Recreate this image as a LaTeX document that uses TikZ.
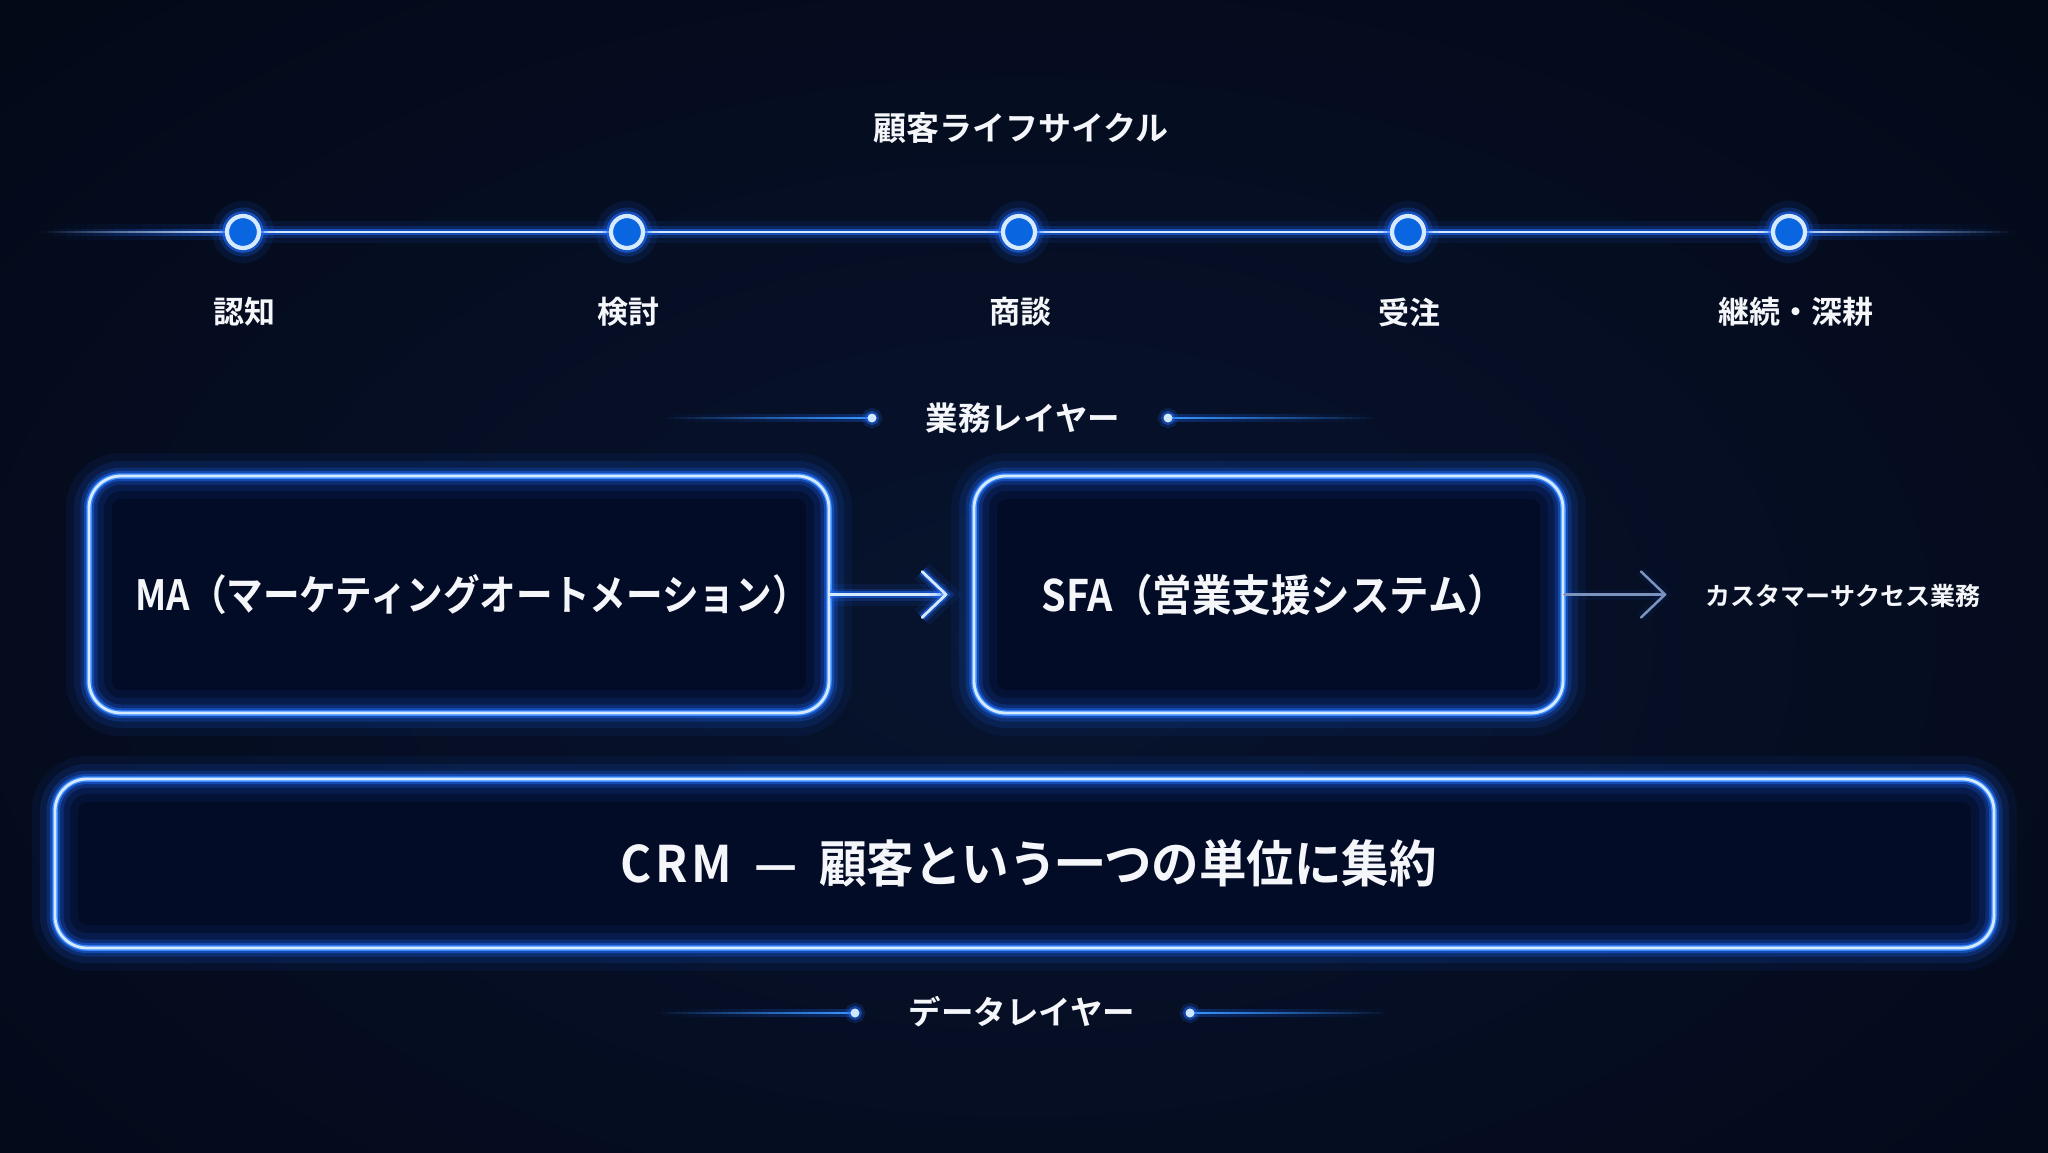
\documentclass[tikz,border=0pt]{standalone}
\usepackage{fontspec}
\setmainfont{Noto Sans CJK JP}[BoldFont={* Bold}]
\usetikzlibrary{calc}

\definecolor{bgout}{HTML}{02040D}
\definecolor{bgin}{HTML}{07132E}
\definecolor{glowblue}{HTML}{1E6CFF}
\definecolor{corelight}{HTML}{D6EAFF}
\definecolor{midblue}{HTML}{3C8CFF}
\definecolor{circfill}{HTML}{0A66E0}
\definecolor{boxfill}{HTML}{030C26}
\definecolor{dimarrow}{HTML}{7C93BD}
\definecolor{txt}{HTML}{F4F6FA}
\definecolor{dotcore}{HTML}{CFE8FF}
\definecolor{thinblue}{HTML}{3A98FF}

\newcommand\fsz[1]{\fontsize{#1pt}{#1pt}\selectfont}
% fading bar: #1 transparent end, #2 opaque end, #3 half height, #4 colour, #5 max opacity
\newcommand\fadebar[5]{%
  \foreach \i in {0,...,29}{%
    \pgfmathsetmacro\fa{\i/30}%
    \pgfmathsetmacro\fb{(\i+1)/30}%
    \pgfmathsetmacro\op{#5*(\i+0.5)/30}%
    \fill[#4, opacity=\op] ($(#1)!\fa!(#2)+(0,-#3)$) rectangle ($(#1)!\fb!(#2)+(0,#3)$);
  }}

\pgfdeclarelayer{back}
\pgfdeclarelayer{lines}
\pgfsetlayers{back,lines,main}

\tikzset{
 glowbox/.style={rounded corners=32pt, line width=2.8pt, draw=corelight, inner sep=0pt,
   preaction={fill=boxfill},
   preaction={draw=glowblue, draw opacity=0.07, line width=46pt},
   preaction={draw=glowblue, draw opacity=0.12, line width=30pt},
   preaction={draw=glowblue, draw opacity=0.22, line width=17pt},
   preaction={draw=glowblue, draw opacity=0.45, line width=10pt},
   preaction={draw=midblue, draw opacity=1, line width=5.5pt},
   text=txt, font=\bfseries},
 glowline/.style={line width=2.8pt, draw=corelight, line cap=round, line join=round,
   preaction={draw=glowblue, draw opacity=0.09, line width=22pt},
   preaction={draw=glowblue, draw opacity=0.2, line width=12pt},
   preaction={draw=glowblue, draw opacity=0.55, line width=6.5pt}},
 dimline/.style={line width=2.5pt, draw=dimarrow, line cap=round, line join=round,
   preaction={draw=glowblue, draw opacity=0.06, line width=10pt}},
 stagecirc/.style={circle, minimum size=32pt, inner sep=0pt, fill=circfill, draw=corelight, line width=4.2pt,
   preaction={draw=glowblue, draw opacity=0.1, line width=30pt},
   preaction={draw=glowblue, draw opacity=0.22, line width=17pt},
   preaction={draw=glowblue, draw opacity=0.6, line width=9.5pt}},
 lbl/.style={text=txt, font=\bfseries\fsz{31}, inner sep=0pt},
 layerlbl/.style={text=txt, font=\bfseries\fsz{32.5}, inner sep=0pt},
 gdot/.style={circle, minimum size=9pt, inner sep=0pt, fill=dotcore,
   preaction={draw=glowblue, draw opacity=0.18, line width=11pt},
   preaction={draw=glowblue, draw opacity=0.45, line width=5pt}},
}

\begin{document}
\begin{tikzpicture}[x=1pt,y=-1pt]
\useasboundingbox (0,0) rectangle (2048,1152);
\begin{pgfonlayer}{back}
\begin{scope}
\clip (0,0) rectangle (2048,1152);
\fill[bgout] (0,0) rectangle (2048,1152);
\shade[inner color=bgin, outer color=bgout] (1024,640) ellipse [x radius=2100pt, y radius=1300pt];
\end{scope}
\end{pgfonlayer}

% title
\node[text=txt, font=\bfseries\fsz{33}, inner sep=0pt] (title) at (1021,128) {顧客ライフサイクル};

% lifecycle stages
\node[stagecirc] (s1) at (243,232) {};
\node[stagecirc] (s2) at (627,232) {};
\node[stagecirc] (s3) at (1019,232) {};
\node[stagecirc] (s4) at (1408,232) {};
\node[stagecirc] (s5) at (1789,232) {};
\coordinate (tlL) at (40,232);
\coordinate (tlR) at (2015,232);

\node[lbl] (l1) at (244,312) {認知};
\node[lbl] (l2) at (628,312) {検討};
\node[lbl] (l3) at (1020,312) {商談};
\node[lbl] (l4) at (1409,312) {受注};
\node[lbl] (l5) at (1796,312) {継続・深耕};

\begin{pgfonlayer}{lines}
\draw[glowline] (s1.center) -- (s2.center) -- (s3.center) -- (s4.center) -- (s5.center);
\fadebar{tlL}{s1.center}{8}{glowblue}{0.15}
\fadebar{tlL}{s1.center}{3.5}{glowblue}{0.5}
\fadebar{tlL}{s1.center}{1.3}{corelight}{1}
\fadebar{tlR}{s5.center}{8}{glowblue}{0.15}
\fadebar{tlR}{s5.center}{3.5}{glowblue}{0.5}
\fadebar{tlR}{s5.center}{1.3}{corelight}{1}
\end{pgfonlayer}

% business layer label
\node[layerlbl] (biz) at (1023,418) {業務レイヤー};
\node[gdot] (bd1) at (872,418) {};
\node[gdot] (bd2) at (1168,418) {};
\coordinate (bl1) at (660,418);
\coordinate (bl2) at (1380,418);
\begin{pgfonlayer}{lines}
\fadebar{bl1}{bd1.center}{4}{glowblue}{0.3}
\fadebar{bl1}{bd1.center}{1.2}{thinblue}{1}
\fadebar{bl2}{bd2.center}{4}{glowblue}{0.3}
\fadebar{bl2}{bd2.center}{1.2}{thinblue}{1}
\end{pgfonlayer}

% MA and SFA boxes
\node[glowbox, minimum width=740pt, minimum height=237pt] (ma) at (459,594.5)
  {\hspace{26pt}\fsz{36.6}\scalebox{1}[1.14]{MA（マーケティングオートメーション）}};
\node[glowbox, minimum width=589pt, minimum height=237pt] (sfa) at (1268.5,594.5)
  {\hspace{12pt}\fsz{39.5}\scalebox{1}[1.1]{SFA（営業支援システム）}};

\coordinate (a1) at (946,594.5);
\draw[glowline] (ma.east) -- (a1);
\draw[glowline] ([shift={(-24pt,-23pt)}]a1) -- (a1) -- ([shift={(-24pt,23pt)}]a1);

\node[text=txt, font=\bfseries\fsz{25}, inner sep=0pt] (cs) at (1843,596) {カスタマーサクセス業務};
\coordinate (a2) at (1665,594.5);
\draw[dimline] (sfa.east) -- (a2);
\draw[dimline] ([shift={(-24pt,-23pt)}]a2) -- (a2) -- ([shift={(-24pt,23pt)}]a2);

% CRM box
\node[glowbox, minimum width=1939pt, minimum height=169pt] (crm) at (1024.5,863.5)
  {\hspace{8pt}\fsz{47.5}\scalebox{1}[1.06]{C\kern4pt R\kern4pt M\hspace{22pt}—\hspace{22pt}顧客という一つの単位に集約}};

% data layer label
\node[layerlbl] (data) at (1022,1012) {データレイヤー};
\node[gdot] (dd1) at (855,1013) {};
\node[gdot] (dd2) at (1190,1013) {};
\coordinate (dl1) at (655,1013);
\coordinate (dl2) at (1392,1013);
\begin{pgfonlayer}{lines}
\fadebar{dl1}{dd1.center}{4}{glowblue}{0.3}
\fadebar{dl1}{dd1.center}{1.2}{thinblue}{1}
\fadebar{dl2}{dd2.center}{4}{glowblue}{0.3}
\fadebar{dl2}{dd2.center}{1.2}{thinblue}{1}
\end{pgfonlayer}
\end{tikzpicture}
\end{document}
